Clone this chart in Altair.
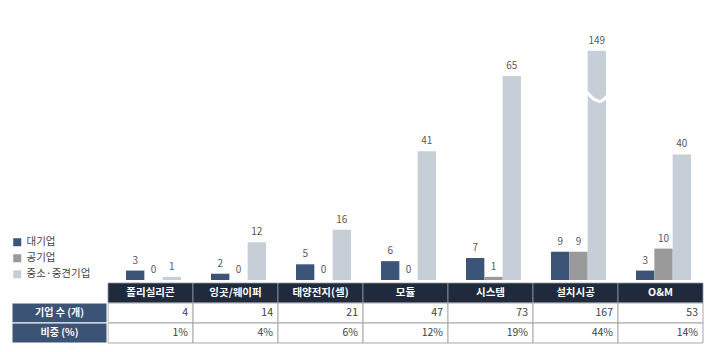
import altair as alt
import pandas as pd

categories = ["폴리실리콘", "잉곳/웨이퍼", "태양전지(셀)", "모듈", "시스템", "설치시공", "O&M"]
series = ["대기업", "공기업", "중소·중견기업"]
large = [3, 2, 5, 6, 7, 9, 3]
public = [0, 0, 0, 0, 1, 9, 10]
sme = [1, 12, 16, 41, 65, 149, 40]
counts = [4, 14, 21, 47, 73, 167, 53]
shares = ["1%", "4%", "6%", "12%", "19%", "44%", "14%"]
row_keys = ["c", "s"]
row_labels = ["기업 수 (개)", "비중 (%)"]
break_cap = 73      # bars above this are drawn with an axis break
break_at = 58.5     # where the break symbol sits
colors = ["#3b5478", "#9a9a9a", "#c6ced8"]
FONT = "Noto Sans CJK KR"

rows = []
for i, c in enumerate(categories):
    for s, vals in zip(series, [large, public, sme]):
        rows.append({"cat": c, "series": s, "value": vals[i]})
bars_df = pd.DataFrame(rows)

table_df = []
for i, c in enumerate(categories):
    table_df.append({"cat": c, "row": "h", "text": c})
    table_df.append({"cat": c, "row": "c", "text": str(counts[i])})
    table_df.append({"cat": c, "row": "s", "text": shares[i]})
table_df = pd.DataFrame(table_df)
label_df = pd.DataFrame({"row": row_keys, "text": row_labels})
wave_df = pd.DataFrame({"cat": ["설치시공"], "series": ["중소·중견기업"], "y": [break_at]})

x_scale = alt.Scale(domain=categories, range=[108, 703], paddingInner=0, paddingOuter=0)
xo_scale = alt.Scale(domain=series, paddingInner=0, paddingOuter=0.82, align=0.6)
y_scale = alt.Scale(domain=[0, 100], range=[280, -34], nice=False, zero=True)
row_scale = alt.Scale(domain=["h", "c", "s"], range=[283, 343], paddingInner=0, paddingOuter=0)

X = alt.X("cat:N", scale=x_scale, sort=categories, axis=None)
XO = alt.XOffset("series:N", scale=xo_scale, sort=series)

bars_base = alt.Chart(bars_df).transform_calculate(
    disp=f"min(datum.value, {break_cap})"
)

bars = bars_base.mark_bar().encode(
    x=X, xOffset=XO,
    y=alt.Y("disp:Q", scale=y_scale, axis=None),
    color=alt.Color("series:N", sort=series,
                    scale=alt.Scale(domain=series, range=colors),
                    legend=alt.Legend(orient="none", legendX=12, legendY=237, title=None,
                                      symbolType="square", symbolSize=64, symbolStrokeWidth=0,
                                      labelFont=FONT, labelFontSize=10.5, labelColor="#444444",
                                      rowPadding=5, padding=0, labelOffset=4)),
)

values = bars_base.mark_text(baseline="bottom", dy=-5, font=FONT, fontSize=10, color="#595959").encode(
    x=X, xOffset=XO,
    y=alt.Y("disp:Q", scale=y_scale, axis=None),
    text="value:Q",
)

wave = alt.Chart(wave_df).mark_point(
    shape="M -1 -0.45 C -0.5 0.05 -0.1 0.55 0.35 0.45 C 0.6 0.4 0.8 0.1 1 -0.1",
    filled=False, stroke="white", strokeWidth=3, size=480, opacity=1,
).encode(x=X, xOffset=XO, y=alt.Y("y:Q", scale=y_scale, axis=None))

Yrow = alt.Y("row:N", scale=row_scale, axis=None)

header_rect = alt.Chart(table_df).transform_filter("datum.row == 'h'").mark_rect(
    fill="#1f2a3d", stroke="#8f98a8", strokeWidth=0.8
).encode(x=X, y=Yrow)

header_text = alt.Chart(table_df).transform_filter("datum.row == 'h'").mark_text(
    font=FONT, fontSize=10.5, fontWeight="bold", color="white"
).encode(x=X, y=Yrow, text="text:N")

cell_rect = alt.Chart(table_df).transform_filter("datum.row != 'h'").mark_rect(
    fill="white", stroke="#a8a8a8", strokeWidth=1
).encode(x=X, y=Yrow)

cell_text = alt.Chart(table_df).transform_filter("datum.row != 'h'").mark_text(
    font=FONT, fontSize=10.5, color="#404040", align="right", dx=-5
).encode(x=alt.X("cat:N", scale=x_scale, sort=categories, axis=None, bandPosition=1),
         y=Yrow, text="text:N")

lab_rect = alt.Chart(label_df).mark_rect(fill="#3b5375", stroke="white", strokeWidth=1).encode(
    x=alt.value(12), x2=alt.value(107), y=Yrow)

lab_text = alt.Chart(label_df).mark_text(font=FONT, fontSize=10, fontWeight="bold", color="white").encode(
    x=alt.value(59.5), y=Yrow, text="text:N")

chart = alt.layer(
    bars, values, wave, header_rect, cell_rect, header_text, cell_text, lab_rect, lab_text
).resolve_scale(y="independent").properties(
    width=719, height=352, autosize=alt.AutoSizeParams(type="none"), padding=0,
    background="white",
).configure_view(stroke=None)

chart.save("out.html", embed_options={"renderer": "svg", "actions": False})
